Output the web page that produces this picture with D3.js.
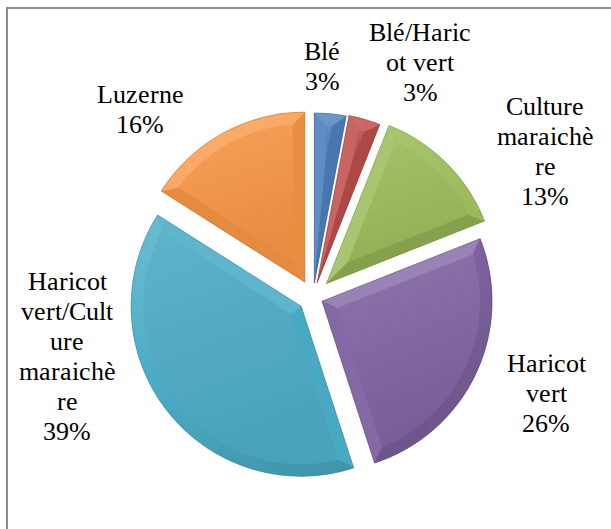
<!DOCTYPE html>
<html>
<head>
<meta charset="utf-8">
<script src="https://cdn.jsdelivr.net/npm/d3@7"></script>
<style>
  @font-face { font-family: 'LabelSerif'; src: local('Liberation Serif'), local('LiberationSerif'), local('Times New Roman'); }
  html, body { margin: 0; padding: 0; background: #fff; }
  svg { display: block; }
</style>
</head>
<body>
<div id="chart"></div>
<script>
// data
const categories = ["Blé", "Blé/Haricot vert", "Culture maraichère", "Haricot vert",
                    "Haricot vert/Culture maraichère", "Luzerne"];
const values = [3, 3, 13, 26, 39, 16];
const labelLines = [
    ["Blé", "3%"],
    ["Blé/Haric", "ot vert", "3%"],
    ["Culture", "maraichè", "re", "13%"],
    ["Haricot", "vert", "26%"],
    ["Haricot", "vert/Cult", "ure", "maraichè", "re", "39%"],
    ["Luzerne", "16%"]
];

// layout / style
const width = 611, height = 529;
const cx = 313, cy = 297, radius = 170, bevel = 12;
const explode = [14, 15, 19, 10, 15, 17];
const colors = ["#4F81BD", "#C0504D", "#9BBB59", "#8064A2", "#4BACC6", "#F79646"];
const labelAnchors = [[322, 60], [420, 41], [545, 115], [546, 372], [67, 290], [140, 103]];
const lineH = 30;
const serif = "LabelSerif, 'Liberation Serif', 'Times New Roman', serif";
const light = (function () { let l = Math.hypot(-0.5, -1); return [-0.5 / l, -1 / l]; })();

let svg = d3.select('#chart')
    .append('svg')
    .attr('width', width)
    .attr('height', height);

let defs = svg.append('defs');

// chart frame (only top and left edges are in view)
svg.append('path')
    .attr('d', 'M7,' + height + ' V8 H' + width)
    .attr('fill', 'none')
    .attr('stroke', '#8c8c8c')
    .attr('stroke-width', 2);

let pie = d3.pie().value(d => d).sort(null);
let arcs = pie(values);

function pt(a, r) { return [Math.sin(a) * r, -Math.cos(a) * r]; }

function shade(base, n) {
    let k = n[0] * light[0] + n[1] * light[1];
    return k > 0 ? d3.interpolateRgb(base, '#fff')(0.2 * k)
                 : d3.interpolateRgb(base, '#000')(-0.14 * k);
}

function poly(p) { return 'M' + p.map(q => q[0].toFixed(2) + ',' + q[1].toFixed(2)).join('L') + 'Z'; }

let outerArc = d3.arc().innerRadius(0).outerRadius(radius);

let slices = svg.selectAll('g.slice')
    .data(arcs)
    .enter()
    .append('g')
    .attr('class', 'slice')
    .attr('transform', function (d, i) {
        let m = (d.startAngle + d.endAngle) / 2;
        let o = pt(m, explode[i]);
        return 'translate(' + (cx + o[0]) + ',' + (cy + o[1]) + ')';
    });

slices.each(function (d, i) {
    let g = d3.select(this);
    let base = colors[i];
    let a0 = d.startAngle, a1 = d.endAngle;
    let h = (a1 - a0) / 2, mid = a0 + h;
    // largest bevel the wedge can take before the inner face vanishes
    let wMax = radius * Math.sin(h) / (1 + Math.sin(h));
    let w = Math.min(bevel, wMax * 0.97);
    let rho = radius - w;
    let tip = pt(mid, w / Math.sin(h));
    let t = Math.asin(w / rho);
    let b0 = a0 + t, b1 = a1 - t;

    // gradient for the flat face
    let gid = 'face' + i;
    let gr = defs.append('linearGradient').attr('id', gid)
        .attr('x1', 0).attr('y1', 0).attr('x2', 0.3).attr('y2', 1);
    gr.append('stop').attr('offset', 0).attr('stop-color', d3.interpolateRgb(base, '#fff')(0.1));
    gr.append('stop').attr('offset', 1).attr('stop-color', d3.interpolateRgb(base, '#000')(0.06));

    g.append('path')
        .attr('d', outerArc(d))
        .attr('fill', base);

    // side facets
    let c0 = shade(base, [-Math.cos(a0), -Math.sin(a0)]);
    let c1 = shade(base, [Math.cos(a1), Math.sin(a1)]);
    g.append('path')
        .attr('d', poly([[0, 0], pt(a0, radius), pt(b0, rho), tip]))
        .attr('fill', c0).attr('stroke', c0).attr('stroke-width', 0.4);
    g.append('path')
        .attr('d', poly([[0, 0], tip, pt(b1, rho), pt(a1, radius)]))
        .attr('fill', c1).attr('stroke', c1).attr('stroke-width', 0.4);

    // rim facets along the outer arc
    let n = Math.max(4, Math.ceil((a1 - a0) / 0.03));
    for (let k = 0; k < n; k++) {
        let oa = a0 + (a1 - a0) * k / n, ob = a0 + (a1 - a0) * (k + 1) / n;
        let ia = b0 + (b1 - b0) * k / n, ib = b0 + (b1 - b0) * (k + 1) / n;
        let c = shade(base, pt((oa + ob) / 2, 1));
        g.append('path')
            .attr('d', poly([pt(oa, radius), pt(ob, radius), pt(ib, rho), pt(ia, rho)]))
            .attr('fill', c).attr('stroke', c).attr('stroke-width', 0.5);
    }

    // flat top face
    let p = d3.path();
    p.moveTo(tip[0], tip[1]);
    let s = pt(b0, rho);
    p.lineTo(s[0], s[1]);
    p.arc(0, 0, rho, b0 - Math.PI / 2, b1 - Math.PI / 2, false);
    p.closePath();
    g.append('path')
        .attr('d', p.toString())
        .attr('fill', 'url(#' + gid + ')');

    // thin dark rim
    g.append('path')
        .attr('d', outerArc(d))
        .attr('fill', 'none')
        .attr('stroke', d3.interpolateRgb(base, '#000')(0.3))
        .attr('stroke-opacity', 0.45)
        .attr('stroke-width', 0.8);
});

// data labels
let labels = svg.selectAll('text.lbl')
    .data(arcs)
    .enter()
    .append('text')
    .attr('class', 'lbl')
    .attr('font-family', serif)
    .attr('font-size', 26)
    .attr('fill', '#000')
    .attr('text-anchor', 'middle');

labels.each(function (d, i) {
    let t = d3.select(this);
    labelLines[i].forEach(function (line, j) {
        t.append('tspan')
            .attr('x', labelAnchors[i][0])
            .attr('y', labelAnchors[i][1] + j * lineH)
            .text(line);
    });
});
</script>
</body>
</html>
